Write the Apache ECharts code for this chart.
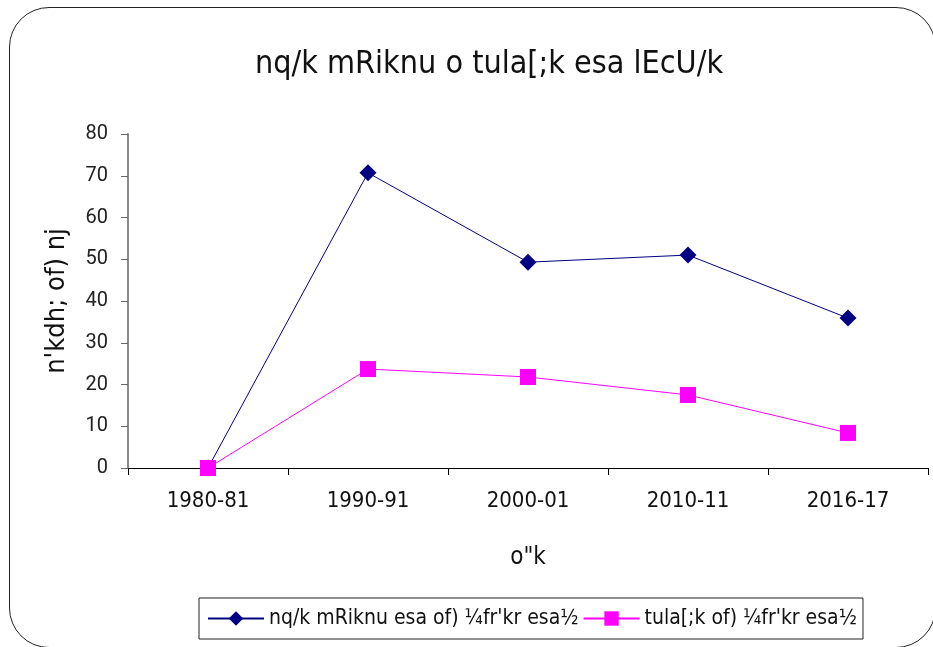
<!DOCTYPE html>
<html>
<head>
<meta charset="utf-8">
<script src="https://cdn.jsdelivr.net/npm/echarts@6/dist/echarts.min.js"></script>
<style>
  html, body { margin: 0; padding: 0; background: #fff; overflow: hidden; }
  #frame {
    position: absolute; left: 9px; top: 7px; width: 927px; height: 641px;
    border: 1.5px solid #222; border-radius: 40px; box-sizing: border-box;
  }
  #chart { position: absolute; left: 0; top: 0; width: 933px; height: 647px; }
</style>
</head>
<body>
<div id="frame"></div>
<div id="chart"></div>
<script>
// years
const categories = ['1980-81', '1990-91', '2000-01', '2010-11', '2016-17']
// milk production growth
const milkGrowth = [0, 70.7, 49.3, 51.0, 35.9]
// population growth
const popGrowth = [0, 23.7, 21.8, 17.5, 8.4]
const yTicks = { min: 0, max: 80, interval: 10 }

const titleText = 'nq/k mRiknu o tula[;k esa lEcU/k'
const yName = "n'kdh; of) nj"
const xName = 'o"k'
const seriesNames = ["nq/k mRiknu esa of) ¼fr'kr esa½", "tula[;k of) ¼fr'kr esa½"]

const font = "'DejaVu Sans Condensed', 'Roboto', sans-serif"

const chart = echarts.init(document.getElementById('chart'))
chart.setOption({
  animation: false,
  title: {
    text: titleText,
    left: 250,
    top: 44,
    textStyle: { fontFamily: font, fontSize: 32, fontWeight: 'normal', color: '#111' }
  },
  legend: {
    data: seriesNames,
    left: 199,
    top: 598,
    padding: [10, 6, 10, 8],
    itemGap: 4,
    itemWidth: 56,
    itemHeight: 18,
    borderColor: '#222',
    borderWidth: 1,
    textStyle: { fontFamily: font, fontSize: 21, color: '#111' }
  },
  grid: { left: 128, right: 5, top: 134, bottom: 179 },
  xAxis: {
    type: 'category',
    data: categories,
    name: xName,
    nameLocation: 'middle',
    nameGap: 78,
    nameTextStyle: { fontFamily: font, fontSize: 24, color: '#111' },
    axisLine: { lineStyle: { color: '#000', width: 1 } },
    axisTick: { show: true, length: 7, lineStyle: { color: '#000' } },
    axisLabel: { fontFamily: font, fontSize: 22, color: '#111', margin: 22 }
  },
  yAxis: {
    type: 'value',
    min: yTicks.min,
    max: yTicks.max,
    interval: yTicks.interval,
    name: yName,
    nameLocation: 'middle',
    nameGap: 58,
    nameTextStyle: { fontFamily: font, fontSize: 27, color: '#111' },
    axisLine: { show: true, lineStyle: { color: '#888', width: 2 } },
    axisTick: { show: true, length: 7, lineStyle: { color: '#666' } },
    splitLine: { show: false },
    axisLabel: { fontFamily: 'Roboto, sans-serif', fontSize: 20, color: '#222', margin: 20 }
  },
  series: [
    {
      name: seriesNames[0],
      type: 'line',
      data: milkGrowth,
      symbol: 'diamond',
      symbolSize: 17,
      lineStyle: { color: '#000080', width: 1 },
      itemStyle: { color: '#000080' }
    },
    {
      name: seriesNames[1],
      type: 'line',
      data: popGrowth,
      symbol: 'rect',
      symbolSize: 16,
      lineStyle: { color: '#ff00ff', width: 1 },
      itemStyle: { color: '#ff00ff' }
    }
  ]
})
</script>
</body>
</html>
